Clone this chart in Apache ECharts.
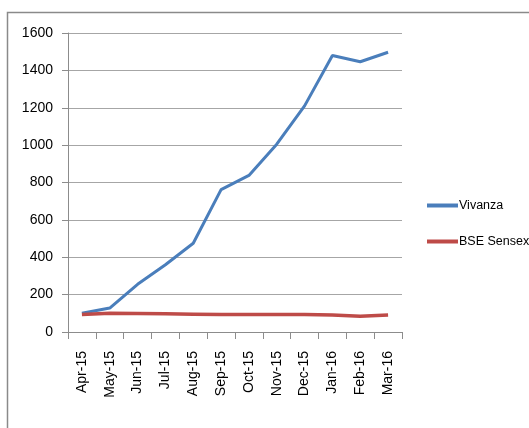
<!DOCTYPE html>
<html>
<head>
<meta charset="utf-8">
<script src="https://cdn.jsdelivr.net/npm/echarts@6/dist/echarts.min.js"></script>
<style>
  html, body { margin: 0; padding: 0; background: #ffffff; }
  #chart { width: 529px; height: 428px; }
</style>
</head>
<body>
<div id="chart"></div>
<script>
const categories = ['Apr-15', 'May-15', 'Jun-15', 'Jul-15', 'Aug-15', 'Sep-15', 'Oct-15', 'Nov-15', 'Dec-15', 'Jan-16', 'Feb-16', 'Mar-16'];
const vivanza = [100, 128, 255, 360, 475, 762, 838, 1005, 1210, 1480, 1446, 1497];
const bseSensex = [93, 100, 99, 97, 95, 93, 93, 93, 93, 91, 84, 91];
const seriesNames = ['Vivanza', 'BSE Sensex'];
const yMin = 0, yMax = 1600, yInterval = 200;

const chart = echarts.init(document.getElementById('chart'), null, { renderer: 'canvas' });
const fontMain = '"Liberation Sans", Arial, sans-serif';

chart.setOption({
  backgroundColor: '#ffffff',
  animation: false,
  graphic: [{
    type: 'rect',
    shape: { x: 7.5, y: 12.5, width: 600, height: 500 },
    style: { fill: 'none', stroke: '#8a8a8a', lineWidth: 1.5 },
    silent: true
  }],
  grid: { left: 68, right: 127, top: 33, bottom: 96, containLabel: false },
  legend: {
    orient: 'vertical',
    left: 422,
    top: 194,
    itemGap: 23,
    itemWidth: 31,
    itemHeight: 4,
    icon: 'rect',
    textStyle: { fontFamily: fontMain, fontSize: 12.5, color: '#000', padding: [0, 0, 0, -4] },
    data: seriesNames
  },
  xAxis: {
    type: 'category',
    data: categories,
    boundaryGap: true,
    axisLine: { lineStyle: { color: '#8c8c8c', width: 1 } },
    axisTick: { show: true, length: 7, lineStyle: { color: '#8c8c8c' } },
    axisLabel: { rotate: 90, margin: 19, fontFamily: fontMain, fontSize: 14, color: '#000', interval: 0 }
  },
  yAxis: {
    type: 'value',
    min: yMin, max: yMax, interval: yInterval,
    axisLine: { show: true, lineStyle: { color: '#8c8c8c', width: 1 } },
    axisTick: { show: true, length: 6, lineStyle: { color: '#8c8c8c' } },
    axisLabel: { margin: 15, fontFamily: fontMain, fontSize: 14, color: '#000', formatter: function (v) { return String(v); } },
    splitLine: { show: true, lineStyle: { color: '#a6a6a6', width: 1 } }
  },
  series: [
    {
      name: seriesNames[0], type: 'line', data: vivanza,
      symbol: 'none', smooth: false,
      lineStyle: { color: '#4a7ebb', width: 3 },
      itemStyle: { color: '#4a7ebb' }
    },
    {
      name: seriesNames[1], type: 'line', data: bseSensex,
      symbol: 'none', smooth: false,
      lineStyle: { color: '#be4b48', width: 3.5 },
      itemStyle: { color: '#be4b48' }
    }
  ]
});
</script>
</body>
</html>
